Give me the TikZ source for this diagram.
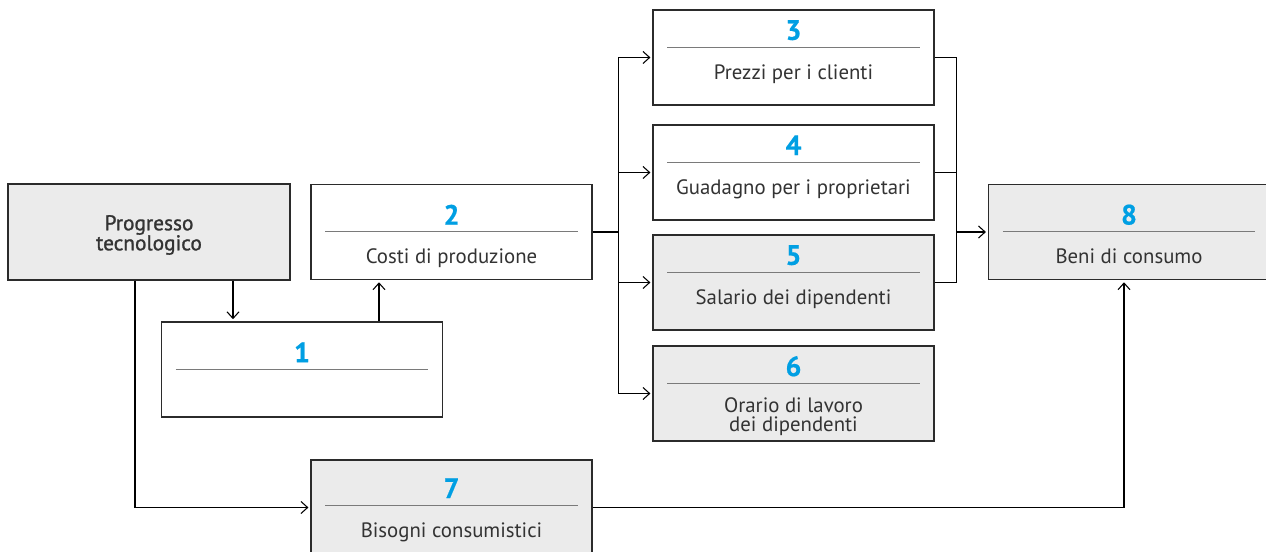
\documentclass[tikz,border=0pt]{standalone}
\usepackage{fontspec}
\setmainfont{PT Sans}
\usetikzlibrary{calc,arrows.meta}

\definecolor{numblue}{HTML}{009FE3}
\definecolor{boxgray}{HTML}{EBEBEB}
\definecolor{inkgray}{HTML}{333333}
\definecolor{framegray}{HTML}{2B2B2B}
\definecolor{rulegray}{HTML}{7A7A7A}

\tikzset{
  ecobox/.style={draw=framegray, line width=1.1pt, minimum width=210.5pt,
    minimum height=71.3pt, inner sep=0pt},
  numtxt/.style={text=numblue, font=\addfontfeature{FakeBold=0.6}\bfseries\fontsize{21}{21}\selectfont, inner sep=0pt},
  bodytxt/.style={text=inkgray, font=\fontsize{15.6}{14.4}\selectfont, align=center, inner sep=0pt, anchor=base},
  divline/.style={draw=rulegray, line width=0.8pt},
  conn/.style={draw=black, line width=0.8pt},
  arr/.style={conn, -{Straight Barb[length=5pt,width=9pt]}, shorten >=1.5pt}
}

% [text options] name, x, y, fill, shift of the contents, number, text
\newcommand{\ecobox}[8][]{
  \node[ecobox, fill=#5] (#2) at (#3,#4) {};
  \node[numtxt] at ($(#2.north)+(0,31+#6)$) {#7};
  \draw[divline] ($(#2.north west)+(15,48+#6)$) -- ($(#2.north east)+(-15,48+#6)$);
  \node[bodytxt, #1] at ($(#2.north)+(0,80+#6)$) {#8};
}

\begin{document}
\begin{tikzpicture}[x=0.75pt, y=-0.75pt]
  \useasboundingbox (0,0) rectangle (1266,552);
  \clip (0,0) rectangle (1266,552);

  % boxes
  \node[ecobox, fill=boxgray, minimum width=211.5pt, minimum height=72pt]
    (prog) at (149,232) {};
  \node[text=inkgray, align=center, inner sep=0pt,
    font=\addfontfeature{FakeBold=1.2}\fontsize{16}{15}\selectfont]
    (progtxt) at (149,235) {Progresso\\tecnologico};
  \ecobox{b1}{302}{369.5}{white}{0}{1}{}
  \ecobox{b2}{451.5}{232}{white}{0}{2}{Costi di produzione}
  \ecobox{b3}{793.5}{57.5}{white}{-10}{3}{Prezzi per i clienti}
  \ecobox{b4}{793.5}{172.5}{white}{-10}{4}{Guadagno per i proprietari}
  \ecobox{b5}{793.5}{282.5}{boxgray}{-10}{5}{Salario dei dipendenti}
  \ecobox[yshift=-12pt]{b6}{793.5}{393.5}{boxgray}{-10}{6}{Orario di lavoro\\dei dipendenti}
  \ecobox{b7}{451.5}{507.5}{boxgray}{-2}{7}{Bisogni consumistici}
  \ecobox{b8}{1129}{232}{boxgray}{0}{8}{Beni di consumo}

  % helper points
  \coordinate (p1) at ($(prog.south)+(84,0)$);
  \coordinate (p2) at ($(b1.north)+(77,0)$);
  \coordinate (p3) at ($(prog.south)+(-14,0)$);
  \coordinate (sp) at ($(b2.east)+(26,0)$);
  \coordinate (mg) at ($(b3.east)+(22,0)$);

  % connectors
  \draw[arr] (p1) -- (p1 |- b1.north);
  \draw[arr] (p2) -- (p2 |- b2.south);
  \draw[conn] (b2.east) -- (sp);
  \draw[conn] (sp |- b3.west) -- (sp |- b6.west);
  \draw[arr] (sp |- b3.west) -- (b3.west);
  \draw[arr] (sp |- b4.west) -- (b4.west);
  \draw[arr] (sp |- b5.west) -- (b5.west);
  \draw[arr] (sp |- b6.west) -- (b6.west);
  \draw[conn] (b3.east) -- (mg);
  \draw[conn] (b4.east) -- (mg |- b4.east);
  \draw[conn] (b5.east) -- (mg |- b5.east);
  \draw[conn] (mg) -- (mg |- b5.east);
  \draw[arr] (mg |- b8.west) -- (b8.west);
  \draw[arr] (p3) |- (b7.west);
  \draw[arr] (b7.east) -| ($(b8.south)+(-5,0)$);
\end{tikzpicture}
\end{document}
